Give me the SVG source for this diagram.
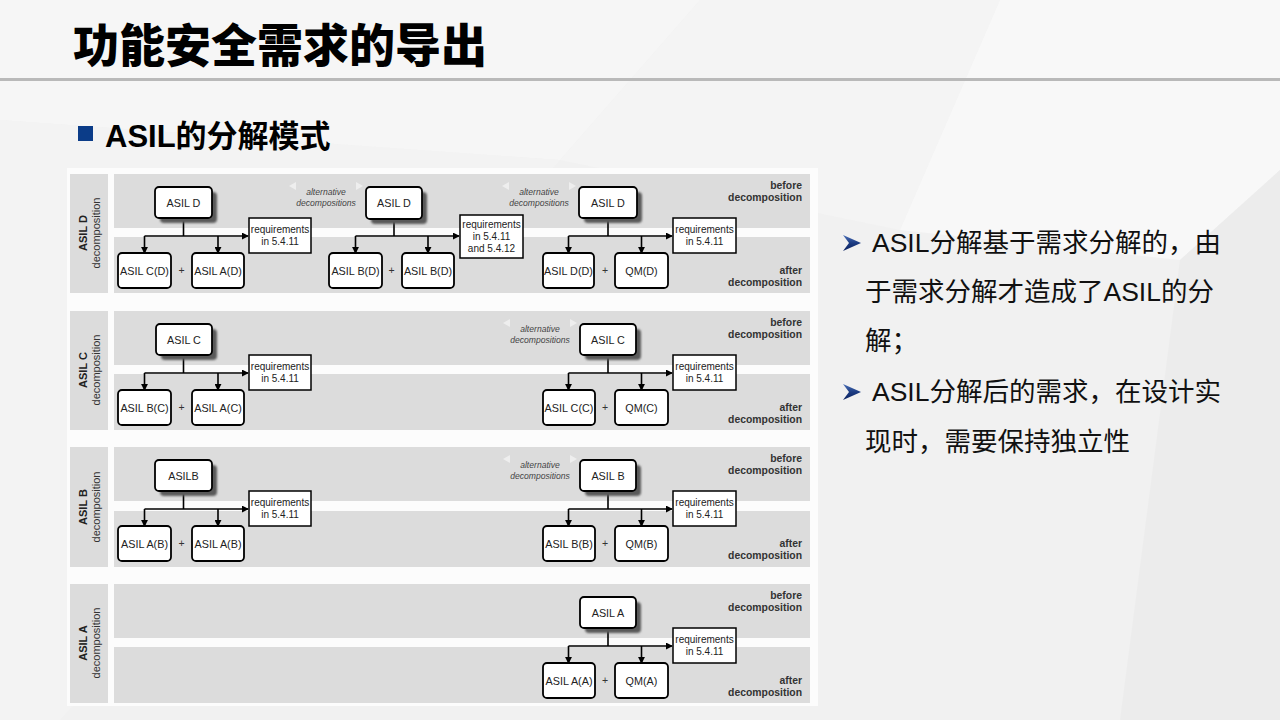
<svg xmlns="http://www.w3.org/2000/svg" width="1280" height="720" viewBox="0 0 1280 720">
<defs>
<style>
.t{font-family:"Liberation Sans",Arial,"Noto Sans CJK SC",sans-serif;}
.cjk{font-family:"Liberation Sans","Noto Sans CJK SC",sans-serif;}
.band{fill:#dcdcdc;}
.node{fill:#fff;stroke:#000;stroke-width:1.8;}
.req{fill:#fff;stroke:#000;stroke-width:1.5;}
.shadow{fill:#5a5a5a;filter:url(#blur);}
.nt{font-family:"Liberation Sans",Arial,sans-serif;font-size:10.8px;fill:#222;text-anchor:middle;}
.rt{font-family:"Liberation Sans",Arial,sans-serif;font-size:10px;fill:#222;text-anchor:middle;}
.plus{font-family:"Liberation Sans",Arial,sans-serif;font-size:10.5px;fill:#333;text-anchor:middle;}
.side{font-family:"Liberation Sans",Arial,sans-serif;font-size:10.4px;font-weight:bold;fill:#333;text-anchor:end;}
.alt{font-family:"Liberation Sans",Arial,sans-serif;font-size:8.6px;font-style:italic;fill:#444;text-anchor:middle;}
.lab1{font-family:"Liberation Sans",Arial,sans-serif;font-size:11px;font-weight:bold;fill:#222;text-anchor:middle;}
.lab2{font-family:"Liberation Sans",Arial,sans-serif;font-size:11px;fill:#333;text-anchor:middle;}
.ln{fill:none;stroke:#000;stroke-width:1.6;}
.tri{fill:#eeeeee;}
.body{font-family:"Liberation Sans","Noto Sans CJK SC",sans-serif;font-size:26.5px;fill:#111;}
</style>
<filter id="blur" x="-20%" y="-20%" width="140%" height="140%"><feGaussianBlur stdDeviation="1.2"/></filter>
<marker id="arr" viewBox="0 0 8 8" refX="7" refY="4" markerWidth="7" markerHeight="7" markerUnits="userSpaceOnUse" orient="auto"><path d="M0,0 L8,4 L0,8 z" fill="#000"/></marker>
<linearGradient id="bul" x1="0" y1="0" x2="0" y2="1"><stop offset="0" stop-color="#4a6fb8"/><stop offset="0.5" stop-color="#1d3c82"/><stop offset="1" stop-color="#0c2260"/></linearGradient>
</defs>

<!-- background -->
<g id="background">
<rect x="0" y="0" width="1280" height="720" fill="#f1f1f1"/>
<polygon points="0,0 700,0 560,160 0,120" fill="#f6f6f6"/>
<polygon points="700,0 1000,0 900,230 560,160" fill="#f4f4f4"/>
<polygon points="1000,0 1280,0 1280,170 1180,260 900,230" fill="#f8f8f8"/>
<polygon points="1180,260 1280,170 1280,720 1120,720" fill="#ececec"/>
<polygon points="0,120 560,160 60,720 0,720" fill="#f3f3f3"/>
<rect x="0" y="78" width="1280" height="3" fill="#b9b9b9"/>
</g>

<!-- title -->
<g id="title">
<text x="73" y="62" class="cjk" font-size="46" font-weight="900" fill="#000">功能安全需求的导出</text>
<rect x="78" y="126" width="15" height="15" fill="#0b3c88"/>
<text x="105" y="147" class="cjk" font-size="31" font-weight="bold" fill="#000">ASIL的分解模式</text>
</g>

<!-- diagram panel -->
<rect x="67" y="168" width="751" height="538" fill="#fcfcfc"/>

<!-- row bands -->
<g id="bands">
<rect class="band" x="70" y="174" width="38" height="119"/>
<rect class="band" x="114" y="174" width="696" height="54"/>
<rect class="band" x="114" y="237" width="696" height="56"/>
<rect class="band" x="70" y="311" width="38" height="119"/>
<rect class="band" x="114" y="311" width="696" height="54"/>
<rect class="band" x="114" y="374" width="696" height="56"/>
<rect class="band" x="70" y="447" width="38" height="120"/>
<rect class="band" x="114" y="447" width="696" height="54"/>
<rect class="band" x="114" y="511" width="696" height="56"/>
<rect class="band" x="70" y="584" width="38" height="119"/>
<rect class="band" x="114" y="584" width="696" height="54"/>
<rect class="band" x="114" y="647" width="696" height="56"/>
</g>

<!-- row labels -->
<g id="row-labels">
<text class="lab1" transform="translate(87,233) rotate(-90)">ASIL D</text>
<text class="lab2" transform="translate(100,233) rotate(-90)">decomposition</text>
<text class="lab1" transform="translate(87,370) rotate(-90)">ASIL C</text>
<text class="lab2" transform="translate(100,370) rotate(-90)">decomposition</text>
<text class="lab1" transform="translate(87,507) rotate(-90)">ASIL B</text>
<text class="lab2" transform="translate(100,507) rotate(-90)">decomposition</text>
<text class="lab1" transform="translate(87,643) rotate(-90)">ASIL A</text>
<text class="lab2" transform="translate(100,643) rotate(-90)">decomposition</text>
</g>

<!-- before/after labels -->
<g id="phase-labels">
<text class="side" x="802" y="189">before</text><text class="side" x="802" y="201">decomposition</text>
<text class="side" x="802" y="274">after</text><text class="side" x="802" y="286">decomposition</text>
<text class="side" x="802" y="326">before</text><text class="side" x="802" y="338">decomposition</text>
<text class="side" x="802" y="411">after</text><text class="side" x="802" y="423">decomposition</text>
<text class="side" x="802" y="462">before</text><text class="side" x="802" y="474">decomposition</text>
<text class="side" x="802" y="547">after</text><text class="side" x="802" y="559">decomposition</text>
<text class="side" x="802" y="599">before</text><text class="side" x="802" y="611">decomposition</text>
<text class="side" x="802" y="684">after</text><text class="side" x="802" y="696">decomposition</text>
</g>

<!-- alternative decompositions -->
<g id="alternatives">
<polygon class="tri" points="289,186 296,182 296,190"/><polygon class="tri" points="363,186 356,182 356,190"/>
<text class="alt" x="326" y="195">alternative</text><text class="alt" x="326" y="206">decompositions</text>
<polygon class="tri" points="502,186 509,182 509,190"/><polygon class="tri" points="576,186 569,182 569,190"/>
<text class="alt" x="539" y="195">alternative</text><text class="alt" x="539" y="206">decompositions</text>
<polygon class="tri" points="503,323 510,319 510,327"/><polygon class="tri" points="577,323 570,319 570,327"/>
<text class="alt" x="540" y="332">alternative</text><text class="alt" x="540" y="343">decompositions</text>
<polygon class="tri" points="503,459 510,455 510,463"/><polygon class="tri" points="577,459 570,455 570,463"/>
<text class="alt" x="540" y="468">alternative</text><text class="alt" x="540" y="479">decompositions</text>
</g>

<!-- connectors -->
<g id="connectors">
<path class="ln" d="M183.5,218 V236"/><path class="ln" d="M144.5,236 H248" marker-end="url(#arr)"/>
<path class="ln" d="M144.5,236 V253" marker-end="url(#arr)"/><path class="ln" d="M218,236 V253" marker-end="url(#arr)"/>
<path class="ln" d="M394,219 V236"/><path class="ln" d="M355.5,236 H459" marker-end="url(#arr)"/>
<path class="ln" d="M355.5,236 V253" marker-end="url(#arr)"/><path class="ln" d="M428,236 V253" marker-end="url(#arr)"/>
<path class="ln" d="M608,218 V236"/><path class="ln" d="M568.5,236 H672" marker-end="url(#arr)"/>
<path class="ln" d="M568.5,236 V253" marker-end="url(#arr)"/><path class="ln" d="M641.5,236 V253" marker-end="url(#arr)"/>
<path class="ln" d="M183.5,355 V373"/><path class="ln" d="M144.5,373 H248" marker-end="url(#arr)"/>
<path class="ln" d="M144.5,373 V390" marker-end="url(#arr)"/><path class="ln" d="M218,373 V390" marker-end="url(#arr)"/>
<path class="ln" d="M608,355 V373"/><path class="ln" d="M568.5,373 H672" marker-end="url(#arr)"/>
<path class="ln" d="M568.5,373 V390" marker-end="url(#arr)"/><path class="ln" d="M641.5,373 V390" marker-end="url(#arr)"/>
<path class="ln" d="M183.5,491 V509"/><path class="ln" d="M144.5,509 H248" marker-end="url(#arr)"/>
<path class="ln" d="M144.5,509 V526" marker-end="url(#arr)"/><path class="ln" d="M218,509 V526" marker-end="url(#arr)"/>
<path class="ln" d="M608,491 V509"/><path class="ln" d="M568.5,509 H672" marker-end="url(#arr)"/>
<path class="ln" d="M568.5,509 V526" marker-end="url(#arr)"/><path class="ln" d="M641.5,509 V526" marker-end="url(#arr)"/>
<path class="ln" d="M608,628 V646"/><path class="ln" d="M568.5,646 H672" marker-end="url(#arr)"/>
<path class="ln" d="M568.5,646 V663" marker-end="url(#arr)"/><path class="ln" d="M641.5,646 V663" marker-end="url(#arr)"/>
</g>

<!-- Row D nodes -->
<g id="d1-parent"><rect class="shadow" x="160" y="192" width="57" height="31" rx="4"/><rect class="node" x="155" y="187" width="57" height="31" rx="4"/><text class="nt" x="183.5" y="206.5">ASIL D</text></g>
<g id="d1-c1"><rect class="node" x="118" y="253" width="53" height="35" rx="4"/><text class="nt" x="144.5" y="274.5">ASIL C(D)</text></g>
<g id="d1-c2"><rect class="node" x="192" y="253" width="52" height="35" rx="4"/><text class="nt" x="218" y="274.5">ASIL A(D)</text></g>
<text class="plus" x="181.5" y="274">+</text>
<g id="d1-req"><rect class="req" x="249" y="218" width="62" height="35"/><text class="rt" x="280" y="232.5">requirements</text><text class="rt" x="280" y="244.5">in 5.4.11</text></g>

<g id="d2-parent"><rect class="shadow" x="371" y="192" width="56" height="32" rx="4"/><rect class="node" x="366" y="187" width="56" height="32" rx="4"/><text class="nt" x="394" y="207">ASIL D</text></g>
<g id="d2-c1"><rect class="node" x="329" y="253" width="53" height="35" rx="4"/><text class="nt" x="355.5" y="274.5">ASIL B(D)</text></g>
<g id="d2-c2"><rect class="node" x="402" y="253" width="52" height="35" rx="4"/><text class="nt" x="428" y="274.5">ASIL B(D)</text></g>
<text class="plus" x="391.5" y="274">+</text>
<g id="d2-req"><rect class="req" x="460" y="215" width="63" height="43"/><text class="rt" x="491.5" y="227.5">requirements</text><text class="rt" x="491.5" y="239.5">in 5.4.11</text><text class="rt" x="491.5" y="251.5">and 5.4.12</text></g>

<g id="d3-parent"><rect class="shadow" x="584" y="192" width="58" height="31" rx="4"/><rect class="node" x="579" y="187" width="58" height="31" rx="4"/><text class="nt" x="608" y="206.5">ASIL D</text></g>
<g id="d3-c1"><rect class="node" x="543" y="253" width="51" height="35" rx="4"/><text class="nt" x="568.5" y="274.5">ASIL D(D)</text></g>
<g id="d3-c2"><rect class="node" x="615" y="253" width="53" height="35" rx="4"/><text class="nt" x="641.5" y="274.5">QM(D)</text></g>
<text class="plus" x="605" y="274">+</text>
<g id="d3-req"><rect class="req" x="673" y="218" width="63" height="35"/><text class="rt" x="704.5" y="232.5">requirements</text><text class="rt" x="704.5" y="244.5">in 5.4.11</text></g>

<!-- Row C nodes -->
<g id="c1-parent"><rect class="shadow" x="161" y="329" width="56" height="31" rx="4"/><rect class="node" x="156" y="324" width="56" height="31" rx="4"/><text class="nt" x="184" y="343.5">ASIL C</text></g>
<g id="c1-c1"><rect class="node" x="118" y="390" width="53" height="35" rx="4"/><text class="nt" x="144.5" y="411.5">ASIL B(C)</text></g>
<g id="c1-c2"><rect class="node" x="192" y="390" width="52" height="35" rx="4"/><text class="nt" x="218" y="411.5">ASIL A(C)</text></g>
<text class="plus" x="181.5" y="411">+</text>
<g id="c1-req"><rect class="req" x="249" y="355" width="62" height="35"/><text class="rt" x="280" y="369.5">requirements</text><text class="rt" x="280" y="381.5">in 5.4.11</text></g>

<g id="c2-parent"><rect class="shadow" x="585" y="329" width="56" height="31" rx="4"/><rect class="node" x="580" y="324" width="56" height="31" rx="4"/><text class="nt" x="608" y="343.5">ASIL C</text></g>
<g id="c2-c1"><rect class="node" x="543" y="390" width="52" height="35" rx="4"/><text class="nt" x="569" y="411.5">ASIL C(C)</text></g>
<g id="c2-c2"><rect class="node" x="615" y="390" width="53" height="35" rx="4"/><text class="nt" x="641.5" y="411.5">QM(C)</text></g>
<text class="plus" x="605" y="411">+</text>
<g id="c2-req"><rect class="req" x="673" y="355" width="63" height="35"/><text class="rt" x="704.5" y="369.5">requirements</text><text class="rt" x="704.5" y="381.5">in 5.4.11</text></g>

<!-- Row B nodes -->
<g id="b1-parent"><rect class="shadow" x="160" y="465" width="57" height="31" rx="4"/><rect class="node" x="155" y="460" width="57" height="31" rx="4"/><text class="nt" x="183.5" y="479.5">ASILB</text></g>
<g id="b1-c1"><rect class="node" x="118" y="526" width="53" height="35" rx="4"/><text class="nt" x="144.5" y="547.5">ASIL A(B)</text></g>
<g id="b1-c2"><rect class="node" x="192" y="526" width="52" height="35" rx="4"/><text class="nt" x="218" y="547.5">ASIL A(B)</text></g>
<text class="plus" x="181.5" y="547">+</text>
<g id="b1-req"><rect class="req" x="249" y="491" width="62" height="35"/><text class="rt" x="280" y="505.5">requirements</text><text class="rt" x="280" y="517.5">in 5.4.11</text></g>

<g id="b2-parent"><rect class="shadow" x="585" y="465" width="56" height="31" rx="4"/><rect class="node" x="580" y="460" width="56" height="31" rx="4"/><text class="nt" x="608" y="479.5">ASIL B</text></g>
<g id="b2-c1"><rect class="node" x="543" y="526" width="52" height="35" rx="4"/><text class="nt" x="569" y="547.5">ASIL B(B)</text></g>
<g id="b2-c2"><rect class="node" x="615" y="526" width="53" height="35" rx="4"/><text class="nt" x="641.5" y="547.5">QM(B)</text></g>
<text class="plus" x="605" y="547">+</text>
<g id="b2-req"><rect class="req" x="673" y="491" width="63" height="35"/><text class="rt" x="704.5" y="505.5">requirements</text><text class="rt" x="704.5" y="517.5">in 5.4.11</text></g>

<!-- Row A nodes -->
<g id="a2-parent"><rect class="shadow" x="585" y="602" width="56" height="31" rx="4"/><rect class="node" x="580" y="597" width="56" height="31" rx="4"/><text class="nt" x="608" y="616.5">ASIL A</text></g>
<g id="a2-c1"><rect class="node" x="543" y="663" width="52" height="35" rx="4"/><text class="nt" x="569" y="684.5">ASIL A(A)</text></g>
<g id="a2-c2"><rect class="node" x="615" y="663" width="53" height="35" rx="4"/><text class="nt" x="641.5" y="684.5">QM(A)</text></g>
<text class="plus" x="605" y="684">+</text>
<g id="a2-req"><rect class="req" x="673" y="628" width="63" height="35"/><text class="rt" x="704.5" y="642.5">requirements</text><text class="rt" x="704.5" y="654.5">in 5.4.11</text></g>

<!-- right text -->
<g id="notes">
<polygon points="843,235 861,243 843,251 849,243" fill="url(#bul)"/>
<text class="body" x="872" y="252">ASIL分解基于需求分解的，由</text>
<text class="body" x="865" y="301">于需求分解才造成了ASIL的分</text>
<text class="body" x="865" y="350">解；</text>
<polygon points="843,384 861,392 843,400 849,392" fill="url(#bul)"/>
<text class="body" x="872" y="401">ASIL分解后的需求，在设计实</text>
<text class="body" x="865" y="451">现时，需要保持独立性</text>
</g>
</svg>
